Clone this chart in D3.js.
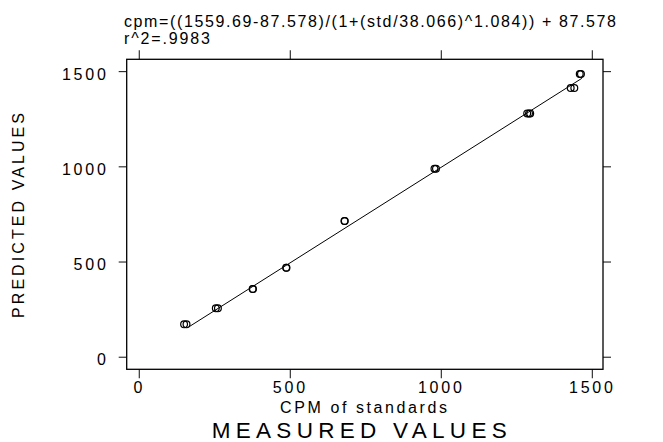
<!DOCTYPE html>
<html>
<head>
<meta charset="utf-8">
<script src="https://cdn.jsdelivr.net/npm/d3@7"></script>
<style>
  html, body { margin: 0; padding: 0; background: #fff; }
  svg { display: block; }
  text { font-family: "Liberation Sans", Arial, Helvetica, sans-serif; fill: #000; }
</style>
</head>
<body>
<div id="chart"></div>
<script>
// 标准品 CPM（测量值）与拟合后预测值
const measured  = [150, 158, 255, 262, 377, 378, 488, 489, 681, 682, 979, 984, 1286, 1292, 1296, 1430, 1442, 1460, 1464];
const predicted = [170, 170, 254, 254, 356, 356, 467, 467, 713, 713, 987, 987, 1278, 1278, 1278, 1411, 1411, 1485, 1485];

// 拟合直线两端
const fitX = [167, 1467];
const fitY = [158, 1462];

// 刻度
const xTicks = [0, 500, 1000, 1500];
const yTicks = [0, 500, 1000, 1500];

const titleLines = ['cpm=((1559.69-87.578)/(1+(std/38.066)^1.084)) + 87.578', 'r^2=.9983'];
const xLabel = 'CPM of standards';
const xTitle = 'MEASURED VALUES';
const yTitle = 'PREDICTED VALUES';

const width = 663, height = 442;
const frame = { left: 126.7, right: 603, top: 59.3, bottom: 369.3 };

const svg = d3.select('#chart').append('svg')
  .attr('width', width)
  .attr('height', height)
  .attr('viewBox', `0 0 ${width} ${height}`);

const x = d3.scaleLinear().domain([-40, 1537]).range([frame.left, frame.right]);
const y = d3.scaleLinear().domain([-66, 1562]).range([frame.bottom, frame.top]);

const tickStyle = g => {
  g.select('.domain').remove();
  g.selectAll('.tick line').attr('stroke', '#222').attr('stroke-width', 1.1);
  g.selectAll('.tick text')
    .style('font-size', '16px')
    .style('letter-spacing', '2.8px');
};

// 底部坐标轴
svg.append('g')
  .attr('transform', `translate(0,${frame.bottom})`)
  .call(d3.axisBottom(x).tickValues(xTicks).tickSize(9).tickFormat(d3.format('d')))
  .call(tickStyle)
  .call(g => g.selectAll('.tick text').attr('dy', null).attr('y', 24));

// 顶部刻度（无标签）
svg.append('g')
  .attr('transform', `translate(0,${frame.top})`)
  .call(d3.axisTop(x).tickValues(xTicks).tickSize(9).tickFormat(''))
  .call(tickStyle);

// 左侧坐标轴
svg.append('g')
  .attr('transform', `translate(${frame.left},0)`)
  .call(d3.axisLeft(y).tickValues(yTicks).tickSize(8).tickPadding(10).tickFormat(d3.format('d')))
  .call(tickStyle)
  .call(g => g.selectAll('.tick text').attr('dy', 8));

// 右侧刻度（无标签）
svg.append('g')
  .attr('transform', `translate(${frame.right},0)`)
  .call(d3.axisRight(y).tickValues(yTicks).tickSize(8).tickFormat(''))
  .call(tickStyle);

// 边框
svg.append('rect')
  .attr('x', frame.left)
  .attr('y', frame.top)
  .attr('width', frame.right - frame.left)
  .attr('height', frame.bottom - frame.top)
  .attr('fill', 'none')
  .attr('stroke', '#000')
  .attr('stroke-width', 1.3);

// 拟合线
const line = d3.line().x(d => x(d[0])).y(d => y(d[1]));
svg.append('path')
  .datum(d3.zip(fitX, fitY))
  .attr('d', line)
  .attr('fill', 'none')
  .attr('stroke', '#000')
  .attr('stroke-width', 1);

// 数据点（空心圆）
svg.append('g')
  .selectAll('circle')
  .data(d3.zip(measured, predicted))
  .join('circle')
  .attr('cx', d => x(d[0]))
  .attr('cy', d => y(d[1]))
  .attr('r', 3.4)
  .attr('fill', 'none')
  .attr('stroke', '#000')
  .attr('stroke-width', 1.2);

// 标题（拟合方程）
svg.append('text')
  .attr('x', 124).attr('y', 26.7)
  .attr('textLength', 492).attr('lengthAdjust', 'spacing')
  .style('font-size', '16px')
  .text(titleLines[0]);
svg.append('text')
  .attr('x', 124).attr('y', 44)
  .attr('textLength', 86).attr('lengthAdjust', 'spacing')
  .style('font-size', '16px')
  .text(titleLines[1]);

// x 轴标签
svg.append('text')
  .attr('x', 363.5).attr('y', 413)
  .attr('text-anchor', 'middle')
  .attr('textLength', 167).attr('lengthAdjust', 'spacing')
  .style('font-size', '16px')
  .text(xLabel);
svg.append('text')
  .attr('x', 359.2).attr('y', 437.5)
  .attr('text-anchor', 'middle')
  .attr('textLength', 295).attr('lengthAdjust', 'spacing')
  .style('font-size', '22.5px')
  .text(xTitle);

// y 轴标题
svg.append('text')
  .attr('transform', 'translate(24,215.5) rotate(-90)')
  .attr('text-anchor', 'middle')
  .attr('textLength', 205).attr('lengthAdjust', 'spacing')
  .style('font-size', '16px')
  .text(yTitle);
</script>
</body>
</html>
